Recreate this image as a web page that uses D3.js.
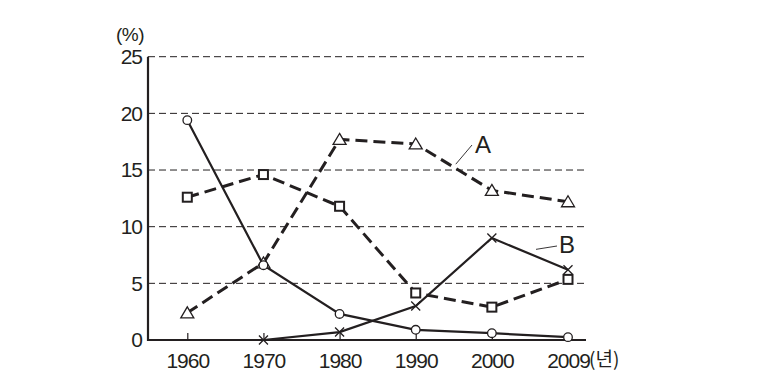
<!DOCTYPE html>
<html><head><meta charset="utf-8">
<script src="https://cdn.jsdelivr.net/npm/d3@7"></script>
<style>body{margin:0;background:#fff}svg{display:block}text{font-family:"Liberation Sans",Arial,sans-serif;fill:#231f20}</style>
</head><body>
<svg id="c" width="775" height="386"></svg>
<script>
const years = ["1960","1970","1980","1990","2000","2009"];
const yTicks = [0,5,10,15,20,25];
const circleVals = [19.4, 6.6, 2.3, 0.9, 0.6, 0.25];
const crossVals  = [null, 0, 0.7, 3.0, 9.0, 6.2];
const squareVals = [12.6, 14.6, 11.8, 4.15, 2.9, 5.35];
const triVals    = [2.4, 6.8, 17.7, 17.3, 13.2, 12.2];
const labelA = "A", labelB = "B";

const svg = d3.select("#c");
const col = "#231f20";
const x = d3.scalePoint().domain(years).range([187.3, 568]);
const y = d3.scaleLinear().domain([0,25]).range([340, 56.7]);
const xL = 148, xR = 586;
const ff = '"Liberation Sans",Arial,sans-serif';

// gridlines
svg.append("g").selectAll("line").data(yTicks.filter(d=>d>0)).join("line")
  .attr("x1", xL).attr("x2", xR).attr("y1", d=>y(d)).attr("y2", d=>y(d))
  .attr("stroke", col).attr("stroke-width", 1).attr("stroke-dasharray", "7,4");

// y axis
const ya = svg.append("g").attr("transform", `translate(${xL},0)`)
  .call(d3.axisLeft(y).tickValues(yTicks).tickSize(0).tickPadding(6));
ya.select(".domain").remove();
ya.selectAll("text").attr("font-size", 21).attr("font-family", ff).attr("fill", col).attr("letter-spacing", "-1");
svg.append("line").attr("x1", xL).attr("x2", xL).attr("y1", y(25)).attr("y2", y(0)+1)
  .attr("stroke", col).attr("stroke-width", 2.2);

// x axis
const xa = svg.append("g").attr("transform", `translate(0,${y(0)})`)
  .call(d3.axisBottom(x).tickSize(-7).tickPadding(13));
xa.select(".domain").remove();
xa.selectAll("line").attr("stroke", col).attr("stroke-width", 1.2);
xa.selectAll("text").attr("font-size", 21).attr("font-family", ff).attr("fill", col).attr("letter-spacing", "-1");
svg.append("line").attr("x1", xL-1).attr("x2", xR).attr("y1", y(0)).attr("y2", y(0))
  .attr("stroke", col).attr("stroke-width", 2.2);

svg.append("text").attr("x", 589).attr("y", 366).attr("font-size", 19)
  .style("font-family", '"Noto Sans CJK KR",sans-serif').text("(년)");
svg.append("text").attr("x", 116).attr("y", 41).attr("font-size", 19).attr("letter-spacing","-0.5").text("(%)");

const line = d3.line().defined(d=>d.v!=null).x(d=>x(d.k)).y(d=>y(d.v));
const mk = arr => years.map((k,i)=>({k, v: arr[i]}));

function series(arr, dashed, width){
  svg.append("path").datum(mk(arr)).attr("d", line).attr("fill","none")
    .attr("stroke", col).attr("stroke-width", width)
    .attr("stroke-dasharray", dashed ? "12,6" : null);
}
series(triVals, true, 3);
series(squareVals, true, 3);
series(circleVals, false, 2.2);
series(crossVals, false, 2.2);

const pts = arr => mk(arr).filter(d=>d.v!=null);
// triangles
svg.append("g").selectAll("path").data(pts(triVals)).join("path")
  .attr("d", d=>{const cx=x(d.k), cy=y(d.v); return `M${cx},${cy-6}L${cx+6.5},${cy+5}L${cx-6.5},${cy+5}Z`;})
  .attr("fill","#fff").attr("stroke", col).attr("stroke-width", 1.3);
// squares
svg.append("g").selectAll("rect").data(pts(squareVals)).join("rect")
  .attr("x", d=>x(d.k)-4.5).attr("y", d=>y(d.v)-4.5).attr("width", 9).attr("height", 9)
  .attr("fill","#fff").attr("stroke", col).attr("stroke-width", 2);
// circles
svg.append("g").selectAll("circle").data(pts(circleVals)).join("circle")
  .attr("cx", d=>x(d.k)).attr("cy", d=>y(d.v)).attr("r", 4.3)
  .attr("fill","#fff").attr("stroke", col).attr("stroke-width", 1.3);
// crosses
svg.append("g").selectAll("path").data(pts(crossVals)).join("path")
  .attr("d", d=>{const cx=x(d.k), cy=y(d.v), s=4.5; return `M${cx-s},${cy-s}L${cx+s},${cy+s}M${cx-s},${cy+s}L${cx+s},${cy-s}`;})
  .attr("fill","none").attr("stroke", col).attr("stroke-width", 1.3);

// labels with leaders
const axA = (x("1990")+x("2000"))/2, ayA = y((triVals[3]+triVals[4])/2);
svg.append("line").attr("x1", axA+2).attr("y1", ayA-3).attr("x2", 472).attr("y2", 145)
  .attr("stroke", col).attr("stroke-width", 0.9);
svg.append("text").attr("x", 475).attr("y", 152.5).attr("font-size", 24).text(labelA);
svg.append("line").attr("x1", 536).attr("y1", y(8)).attr("x2", 557).attr("y2", 246)
  .attr("stroke", col).attr("stroke-width", 0.9);
svg.append("text").attr("x", 559).attr("y", 253).attr("font-size", 24).text(labelB);
</script>
</body></html>
